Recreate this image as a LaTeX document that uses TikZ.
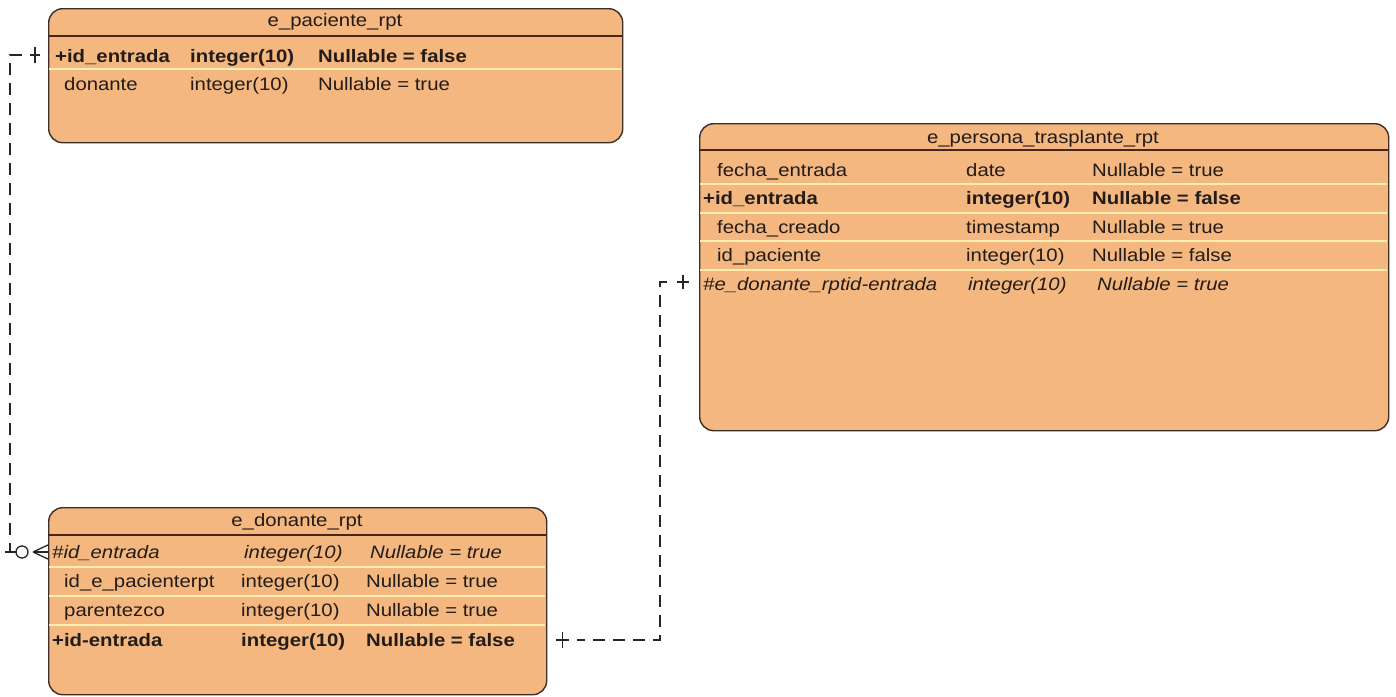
\documentclass[tikz,border=0pt]{standalone}
\usepackage{fontspec}
\setmainfont{Liberation Sans}[FakeStretch=1.13]
\newcommand{\tblsize}{\fontsize{18}{20}\selectfont}
\definecolor{tblfill}{RGB}{243,183,127}
\definecolor{tblborder}{RGB}{62,46,40}
\definecolor{tblhead}{RGB}{72,38,28}
\definecolor{rowsep}{RGB}{255,238,176}
\definecolor{tbltext}{RGB}{35,28,25}
\tikzset{
  tbl/.style={draw=tblborder, line width=1.4pt, fill=tblfill, rounded corners=14pt,
              anchor=north west, inner sep=0pt},
  title/.style={anchor=base, inner sep=0pt, text=tbltext, font=\tblsize},
  cell/.style={anchor=base west, inner sep=0pt, text=tbltext, font=\tblsize},
  keyrow/.style={cell, font=\tblsize\bfseries},
  fkrow/.style={cell, font=\tblsize\itshape},
  headline/.style={draw=tblhead, line width=1.3pt},
  sepline/.style={draw=rowsep, line width=1.6pt},
  fk/.style={draw=black!85, line width=1.2pt, dash pattern=on 12pt off 8pt, dash phase=12pt},
  endmark/.style={draw=black!85, line width=1.3pt},
}
\begin{document}
\begin{tikzpicture}[x=1pt, y=-1pt]
\useasboundingbox (0,0) rectangle (1396,696);

% ---------- e_paciente_rpt ----------
\node[tbl, minimum width=574, minimum height=134] (pac) at (48,8) {};
\node[title] (pacT) at (335,27) {e\_paciente\_rpt};
\draw[headline] (pac.west |- 0,36) -- (pac.east |- 0,36);
\draw[sepline] (49,69) -- (621,69);
\node[keyrow] (pac1) at (55,62) {+id\_entrada};
\node[keyrow] at (190,62) {integer(10)};
\node[keyrow] at (318,62) {Nullable = false};
\node[cell] (pac2) at (64,90) {donante};
\node[cell] at (190,90) {integer(10)};
\node[cell] at (318,90) {Nullable = true};

% ---------- e_persona_trasplante_rpt ----------
\node[tbl, minimum width=689, minimum height=307] (per) at (699,123) {};
\node[title] (perT) at (1043,143) {e\_persona\_trasplante\_rpt};
\draw[headline] (per.west |- 0,150) -- (per.east |- 0,150);
\foreach \yy in {184,213,241,270} \draw[sepline] (700,\yy) -- (1387,\yy);
\node[cell] (per1) at (717,176) {fecha\_entrada};
\node[cell] at (966,176) {date};
\node[cell] at (1092,176) {Nullable = true};
\node[keyrow] (per2) at (703,204) {+id\_entrada};
\node[keyrow] at (966,204) {integer(10)};
\node[keyrow] at (1092,204) {Nullable = false};
\node[cell] (per3) at (717,233) {fecha\_creado};
\node[cell] at (966,233) {timestamp};
\node[cell] at (1092,233) {Nullable = true};
\node[cell] (per4) at (717,261) {id\_paciente};
\node[cell] at (966,261) {integer(10)};
\node[cell] at (1092,261) {Nullable = false};
\node[fkrow] (per5) at (703,290) {\#e\_donante\_rptid-entrada};
\node[fkrow] at (968,290) {integer(10)};
\node[fkrow] at (1097,290) {Nullable = true};

% ---------- e_donante_rpt ----------
\node[tbl, minimum width=498, minimum height=187] (don) at (48,507) {};
\node[title] (donT) at (297,526) {e\_donante\_rpt};
\draw[headline] (don.west |- 0,535) -- (don.east |- 0,535);
\foreach \yy in {567,596,625} \draw[sepline] (49,\yy) -- (545,\yy);
\node[fkrow] (don1) at (52,558) {\#id\_entrada};
\node[fkrow] at (244,558) {integer(10)};
\node[fkrow] at (370,558) {Nullable = true};
\node[cell] (don2) at (64,587) {id\_e\_pacienterpt};
\node[cell] at (241,587) {integer(10)};
\node[cell] at (366,587) {Nullable = true};
\node[cell] (don3) at (64,616) {parentezco};
\node[cell] at (241,616) {integer(10)};
\node[cell] at (366,616) {Nullable = true};
\node[keyrow] (don4) at (52,646) {+id-entrada};
\node[keyrow] at (241,646) {integer(10)};
\node[keyrow] at (366,646) {Nullable = false};

% ---------- relationship e_paciente_rpt -> e_donante_rpt ----------
\coordinate (pacK) at (pac.west |- 0,55);
\coordinate (donF) at (don.west |- 0,552);
\coordinate (b1) at (10,55);
\coordinate (b2) at (10,552);
\draw[fk] ([xshift=-18pt]pacK) -- (b1) -- (b2);
\draw[endmark] ([xshift=-18pt]pacK) -- ([xshift=-8pt]pacK);
\draw[endmark] ([xshift=-13pt,yshift=8pt]pacK) -- ([xshift=-13pt,yshift=-8pt]pacK);
\draw[endmark] ([xshift=-5pt]b2) -- ([xshift=-32pt]donF);
\draw[endmark, fill=white] ([xshift=-26pt]donF) circle (6pt);
\coordinate (crow) at ([xshift=-15pt]donF);
\draw[endmark] (crow) -- ([yshift=7pt]donF);
\draw[endmark] (crow) -- ([yshift=-7pt]donF);
\draw[endmark] (crow) -- (donF);

% ---------- relationship e_donante_rpt -> e_persona_trasplante_rpt ----------
\coordinate (perF) at (per.west |- 0,282);
\coordinate (donK) at (don.east |- 0,640);
\coordinate (c1) at (660,282);
\coordinate (c2) at (660,640);
\draw[fk] ([xshift=-24pt]perF) -- (c1) -- (c2) -- ([xshift=30pt]donK);
\draw[endmark] ([xshift=-22pt]perF) -- ([xshift=-10pt]perF);
\draw[endmark] ([xshift=-16pt,yshift=7pt]perF) -- ([xshift=-16pt,yshift=-7pt]perF);
\draw[endmark] ([xshift=9pt]donK) -- ([xshift=22pt]donK);
\draw[endmark] ([xshift=15pt,yshift=8pt]donK) -- ([xshift=15pt,yshift=-8pt]donK);
\end{tikzpicture}
\end{document}
